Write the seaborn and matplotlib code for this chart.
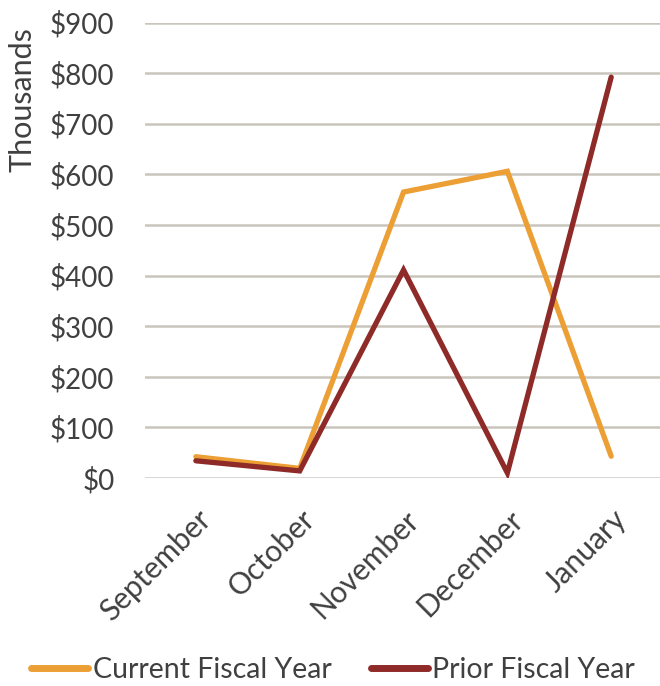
import matplotlib
matplotlib.use("Agg")
import matplotlib.pyplot as plt
import matplotlib.transforms as mtransforms
import seaborn as sns
import pandas as pd

months = ["September", "October", "November", "December", "January"]
current_fy = [42, 19, 565, 606, 43]
prior_fy = [34, 14, 411, 10, 792]
series_names = ["Current Fiscal Year", "Prior Fiscal Year"]
y_ticks = [0, 100, 200, 300, 400, 500, 600, 700, 800, 900]

df = pd.DataFrame({
    "Month": months * 2,
    "Value": current_fy + prior_fy,
    "Series": [series_names[0]] * len(months) + [series_names[1]] * len(months),
})

sns.set_theme(style="white")
plt.rcParams["font.family"] = ["Lato", "DejaVu Sans"]
text_color = "#404040"
fs = 20

fig = plt.figure(figsize=(6.6, 6.86), dpi=100)
ax = fig.add_axes([145 / 660, 1 - 478 / 686, 1 - 145 / 660, (478 - 22.5) / 686])

palette = {series_names[0]: "#EC9F34", series_names[1]: "#8E2A27"}
sns.lineplot(data=df, x="Month", y="Value", hue="Series", palette=palette,
             linewidth=3.8, ax=ax, sort=False, legend=True, zorder=3)
for ln in ax.lines:
    ln.set_solid_capstyle("round")
    ln.set_solid_joinstyle("miter")

ax.set_ylim(0, 900)
ax.set_xlim(-0.49, 4.47)
ax.set_yticks(y_ticks)
ax.set_yticklabels([f"${v}" for v in y_ticks])
ax.yaxis.grid(True, color="#C9C5BC", linewidth=1.8, zorder=0)
ax.xaxis.grid(False)
for s in ax.spines.values():
    s.set_visible(False)
ax.axhline(0, color="#D9D9D9", linewidth=1.8, zorder=1)

ax.tick_params(axis="y", length=0, pad=22, labelsize=fs, labelcolor=text_color)
ax.tick_params(axis="x", length=0, pad=0, labelsize=21.5, labelcolor=text_color)
ax.set_xticks(range(len(months)))
ax.set_xticklabels(months, rotation=45, ha="right", rotation_mode="anchor")
offset = mtransforms.ScaledTranslation(1 / 100, -27 / 100, fig.dpi_scale_trans)
for lbl in ax.get_xticklabels():
    lbl.set_transform(lbl.get_transform() + offset)
ax.set_xlabel("")
ax.set_ylabel("")

fig.text(23 / 660, 1 - 100 / 686, "Thousands", rotation=90, ha="center", va="center",
         fontsize=22, color=text_color)

handles, labels = ax.get_legend_handles_labels()
ax.get_legend().remove()
leg = fig.legend(handles, labels, loc="center", bbox_to_anchor=(0.505, 1 - 670 / 686),
                 ncol=2, frameon=False, fontsize=20.5, handlelength=2.0,
                 handletextpad=0.15, columnspacing=1.4)
for t in leg.get_texts():
    t.set_color(text_color)
for h in leg.get_lines():
    h.set_linewidth(5)
    h.set_solid_capstyle("round")

fig.savefig("out.png", dpi=100)
